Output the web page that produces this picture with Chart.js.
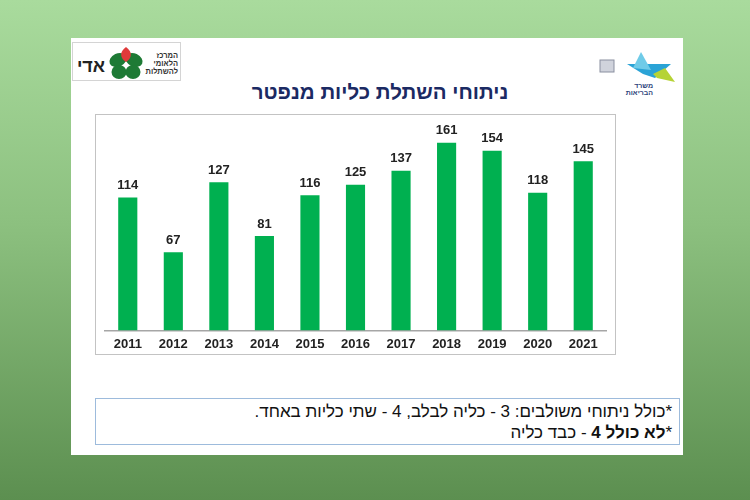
<!DOCTYPE html>
<html lang="he">
<head>
<meta charset="utf-8">
<script src="https://cdn.jsdelivr.net/npm/chart.js@4.4.1/dist/chart.umd.min.js"></script>
<style>
    html, body { margin: 0; padding: 0; }
    body {
        width: 750px; height: 500px; overflow: hidden; position: relative;
        background: linear-gradient(180deg, #a9db9d 0%, #8cc07f 45%, #5c8f50 100%);
        font-family: Arial, "Liberation Sans", "DejaVu Sans", sans-serif;
    }
    .slide { position: absolute; left: 71px; top: 38px; width: 612px; height: 417px; background: #fff; }
    .logo-left { position: absolute; left: 1px; top: 4px; width: 107px; height: 37px; border: 1px solid #d4d4d4; }
    .logo-right { position: absolute; left: 524px; top: 10px; width: 85px; height: 50px; }
    .title {
        position: absolute; left: 0; top: 42px; width: 618px; text-align: center;
        direction: rtl; font-weight: bold; font-size: 20.5px; color: #1b2a63;
    }
    .chart-box { position: absolute; left: 24px; top: 76px; width: 519px; height: 239px; border: 1.5px solid #c3c3c3; }
    .chart-box canvas { position: absolute; left: 0; top: 0; }
    .note {
        position: absolute; left: 24px; top: 360px; width: 585px; height: 47px;
        border: 1px solid #9dbbdc; direction: rtl; text-align: right;
        font-size: 17px; line-height: 21px; color: #111; padding: 2px 7px 0 0; box-sizing: border-box;
    }
    .note b { font-weight: bold; }
</style>
</head>
<body>
<div class="slide">
    <div class="logo-left">
        <svg width="107" height="37" viewBox="0 0 107 37">
            <text x="18" y="29" font-size="18" font-weight="bold" fill="#222" text-anchor="middle" font-family="Arial, 'Liberation Sans', sans-serif">אדי</text>
            <g transform="translate(53,21)">
                <ellipse cx="-8" cy="-4" rx="9" ry="6.5" fill="#1e7a35" transform="rotate(-25 -8 -4)"/>
                <ellipse cx="8" cy="-4" rx="9" ry="6.5" fill="#1e7a35" transform="rotate(25 8 -4)"/>
                <ellipse cx="-7" cy="8" rx="7.5" ry="7" fill="#1e7a35"/>
                <ellipse cx="7" cy="8" rx="7.5" ry="7" fill="#1e7a35"/>
                <path d="M0 -17 C -7 -12 -6 -6 0 -2 C 6 -6 7 -12 0 -17 Z" fill="#e03a3a"/>
            </g>
            <g font-size="7.5" font-weight="bold" fill="#333" text-anchor="end" font-family="Arial, 'Liberation Sans', sans-serif">
                <text x="105" y="15">המרכז</text>
                <text x="105" y="23">הלאומי</text>
                <text x="105" y="31">להשתלות</text>
            </g>
        </svg>
    </div>
    <div class="logo-right">
        <svg width="85" height="50" viewBox="0 0 85 50">
            <rect x="5" y="12" width="14" height="12" fill="#d0d3dc" stroke="#8a8fa0" stroke-width="1"/>
            <path d="M32 16 L76 16 L60 30 L48 26 Z" fill="#2aa3d6"/>
            <path d="M46 4 L56 22 L38 20 Z" fill="#6fcbe8"/>
            <path d="M58 26 L70 20 L80 34 L62 30 Z" fill="#b6d335"/>
            <g font-size="7" font-weight="bold" fill="#2c3f7a" text-anchor="end" font-family="Arial, 'Liberation Sans', sans-serif">
                <text x="58" y="40">משרד</text>
                <text x="58" y="47">הבריאות</text>
            </g>
        </svg>
    </div>
    <div class="title">ניתוחי השתלת כליות מנפטר</div>
    <div class="chart-box"><canvas id="transplantChart" width="519" height="246"></canvas></div>
    <div class="note">*כולל ניתוחי משולבים: 3 - כליה לבלב, 4 - שתי כליות באחד.<br>*<b>לא כולל 4</b> - כבד כליה</div>
</div>

<script>
    // Data
    const years = ['2011', '2012', '2013', '2014', '2015', '2016', '2017', '2018', '2019', '2020', '2021'];
    const transplants = [114, 67, 127, 81, 116, 125, 137, 161, 154, 118, 145];
    const yMax = 180;

    // Value labels above each bar
    const barValueLabels = {
        id: 'barValueLabels',
        afterDatasetsDraw(chart) {
            const ctx = chart.ctx;
            const meta = chart.getDatasetMeta(0);
            ctx.save();
            ctx.font = "bold 13px Arial, 'Liberation Sans', sans-serif";
            ctx.fillStyle = '#222';
            ctx.textAlign = 'center';
            ctx.textBaseline = 'middle';
            meta.data.forEach((bar, i) => {
                ctx.fillText(chart.data.datasets[0].data[i], bar.x, bar.y - 12);
            });
            ctx.restore();
        }
    };

    const ctx = document.getElementById('transplantChart').getContext('2d');
    new Chart(ctx, {
        type: 'bar',
        data: {
            labels: years,
            datasets: [{
                data: transplants,
                backgroundColor: '#00b050',
                borderWidth: 0,
                barPercentage: 1,
                categoryPercentage: 0.42
            }]
        },
        options: {
            responsive: false,
            animation: false,
            layout: { padding: { left: 9, right: 9, top: 5.5, bottom: 3 } },
            plugins: { legend: { display: false }, tooltip: { enabled: false } },
            scales: {
                x: {
                    grid: { display: false, drawTicks: false },
                    border: { display: true, color: '#a6a6a6', width: 1.5 },
                    ticks: {
                        color: '#222',
                        padding: 6,
                        font: { family: "Arial, 'Liberation Sans', sans-serif", size: 13, weight: 'bold' }
                    }
                },
                y: { display: false, min: 0, max: yMax }
            }
        },
        plugins: [barValueLabels]
    });
</script>
</body>
</html>
